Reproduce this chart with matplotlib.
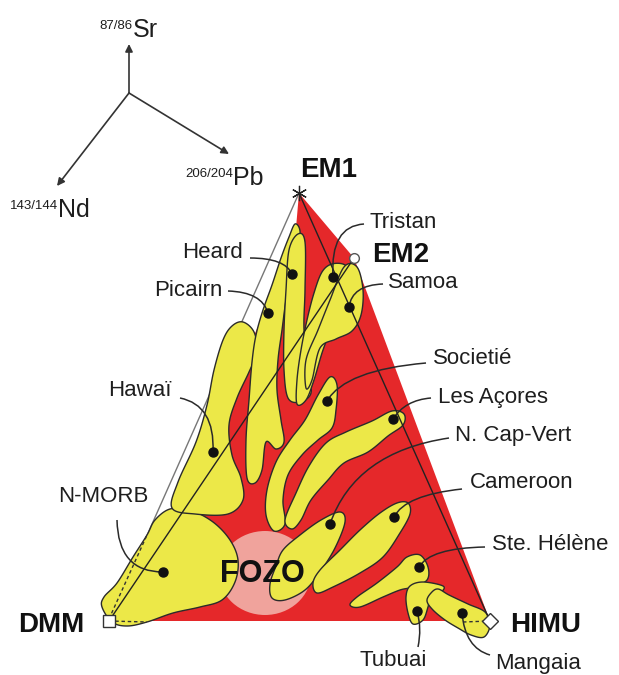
import numpy as np
import matplotlib.pyplot as plt
from matplotlib.path import Path
from matplotlib.patches import PathPatch, Polygon, Ellipse

plt.rcParams['font.family'] = ['Liberation Sans', 'DejaVu Sans']

# end-members (picture coords, y down)
em_names = ['EM1', 'EM2', 'DMM', 'HIMU']
em_xy = [(299, 193), (354, 258), (109, 621), (490, 621)]
em_label_xy = [(300, 170), (372, 255), (18, 625), (510, 625)]

# islands: dot position, label position, leader control point
islands = ['Tristan', 'Samoa', 'Societié', 'Les Açores', 'N. Cap-Vert', 'Cameroon',
           'Ste. Hélène', 'Tubuai', 'Mangaia', 'Heard', 'Picairn', 'Hawaï', 'N-MORB']
dot_xy = [(333, 277), (349, 307), (327, 401), (393, 419), (330, 524), (394, 517),
          (419, 567), (417, 611), (462, 613), (292, 274), (268, 313), (213, 452), (163, 572)]
label_xy = [(370, 222), (388, 283), (433, 359), (438, 397), (455, 435), (470, 483),
            (492, 545), (360, 661), (495, 663), (243, 252), (222, 290), (172, 391), (148, 496)]
label_ha = ['left'] * 9 + ['right'] * 4
lead_start = [(364, 224), (383, 284), (426, 363), (431, 398), (449, 438), (462, 489),
              (485, 547), (418, 647), (490, 655), (250, 258), (228, 291), (180, 398), (117, 520)]
lead_ctrl = [(330, 226), (352, 285), (345, 370), (405, 400), (355, 452), (405, 495),
             (430, 548), (422, 628), (465, 648), (285, 258), (262, 292), (215, 405), (118, 572)]

# yellow fields (outline points)
blobs = {
    'N-MORB': [(102, 607), (112, 622), (127, 626), (147, 622), (173, 613), (200, 607), (222, 600),
               (235, 582), (238, 560), (230, 540), (213, 522), (190, 510), (170, 509), (155, 520),
               (147, 535), (133, 557), (117, 583), (104, 597)],
    'Hawaii': [(243, 322), (254, 332), (257, 352), (249, 372), (237, 398), (229, 425), (232, 455),
               (241, 478), (243, 500), (228, 514), (195, 514), (172, 508), (178, 482), (196, 442),
               (207, 405), (214, 370), (223, 340), (232, 326)],
    'Picairn': [(295, 224), (300, 231), (298, 250), (291, 275), (286, 300), (282, 330), (278, 360),
                (277, 390), (281, 420), (284, 442), (276, 449), (266, 442), (262, 470), (255, 483),
                (247, 478), (246, 440), (249, 400), (252, 362), (256, 335), (263, 310), (272, 285),
                (281, 258), (289, 237)],
    'Heard': [(298, 234), (305, 242), (305, 290), (304, 330), (308, 370), (311, 393), (300, 402),
              (288, 398), (284, 370), (284, 330), (286, 290), (289, 250)],
    'Tristan': [(322, 272), (332, 264), (345, 265), (350, 276), (344, 298), (334, 322), (323, 350),
                (314, 380), (306, 400), (297, 404), (297, 380), (301, 350), (307, 320), (314, 293)],
    'Samoa': [(344, 267), (357, 267), (363, 290), (361, 315), (352, 331), (336, 339), (320, 348),
              (312, 380), (306, 388), (306, 360), (318, 330), (330, 300)],
    'Societie': [(330, 377), (337, 385), (336, 410), (332, 428), (318, 440), (302, 455), (288, 475),
                 (283, 500), (285, 524), (274, 531), (266, 515), (267, 490), (276, 462), (290, 440),
                 (305, 420), (318, 395)],
    'Acores': [(392, 411), (404, 414), (403, 425), (388, 436), (368, 452), (344, 463), (328, 480),
               (311, 500), (301, 520), (292, 529), (285, 520), (296, 493), (309, 466), (326, 443),
               (346, 432), (372, 421)],
    'CapVert': [(340, 512), (345, 522), (335, 548), (320, 572), (305, 590), (285, 600), (272, 598),
                (270, 584), (276, 566), (283, 550), (300, 535), (321, 520)],
    'Cameroon': [(397, 503), (408, 503), (410, 514), (400, 533), (383, 557), (360, 573), (333, 587),
                 (317, 593), (313, 583), (320, 570), (340, 550), (360, 530), (380, 513)],
    'Helene': [(407, 557), (420, 555), (428, 567), (427, 580), (413, 587), (400, 590), (383, 597),
               (360, 607), (350, 605), (357, 597), (377, 583), (397, 567)],
    'Tubuai': [(410, 586), (423, 582), (443, 586), (441, 592), (431, 595), (428, 607), (423, 620),
               (413, 624), (408, 613), (406, 597)],
    'Mangaia': [(431, 593), (438, 589), (449, 595), (468, 604), (485, 612), (490, 625), (484, 637),
                (471, 635), (458, 628), (445, 620), (433, 610), (427, 601)],
}

red_zone = [(299, 193), (354, 258), (490, 621), (150, 621), (205, 500), (232, 400),
            (252, 340), (270, 300), (285, 262), (296, 228)]
fozo_center = (265, 573)

RED = '#e5282a'
YELLOW = '#ece848'
INK = '#1e1e1e'


def smooth_closed(pts, n=14):
    p = np.array(pts, float)
    m = len(p)
    out = []
    for i in range(m):
        p0, p1, p2, p3 = p[i - 1], p[i], p[(i + 1) % m], p[(i + 2) % m]
        for t in np.linspace(0, 1, n, endpoint=False):
            t2, t3 = t * t, t * t * t
            out.append(0.5 * ((2 * p1) + (-p0 + p2) * t + (2 * p0 - 5 * p1 + 4 * p2 - p3) * t2
                              + (-p0 + 3 * p1 - 3 * p2 + p3) * t3))
    return np.array(out)


fig = plt.figure(figsize=(6.19, 6.75), dpi=100)
ax = fig.add_axes([0, 0, 1, 1])
ax.set_xlim(0, 619)
ax.set_ylim(675, 0)
ax.axis('off')

# isotope axes in the corner
origin = (129, 93)
axis_tips = [(129, 44), (229, 154), (57, 186)]
axis_sup = ['87/86', '206/204', '143/144']
axis_main = ['Sr', 'Pb', 'Nd']
axis_text_xy = [(133, 37), (233, 185), (58, 217)]
for tip, sup, main, (tx, ty) in zip(axis_tips, axis_sup, axis_main, axis_text_xy):
    ax.annotate('', xy=tip, xytext=origin,
                arrowprops=dict(arrowstyle='-|>', color='#333333', lw=1.2, mutation_scale=11,
                                shrinkA=0, shrinkB=0))
    ax.text(tx, ty - 8, sup, fontsize=9.5, ha='right', va='baseline', color=INK)
    ax.text(tx, ty, main, fontsize=18, ha='left', va='baseline', color=INK)

# triangle
ax.add_patch(Polygon(red_zone, closed=True, facecolor=RED, edgecolor='none', zorder=1))
ax.plot([em_xy[0][0], em_xy[2][0]], [em_xy[0][1], em_xy[2][1]], color='#777777', lw=1, zorder=1)
ax.add_patch(Ellipse(fozo_center, 92, 84, facecolor='#f0a39c', edgecolor='none', zorder=2))

for name, pts in blobs.items():
    ax.add_patch(Polygon(smooth_closed(pts), closed=True, facecolor=YELLOW,
                         edgecolor='#2b2b2b', lw=1, zorder=3))

# mixing lines
ax.plot([em_xy[0][0], em_xy[3][0]], [em_xy[0][1], em_xy[3][1]], color='#222222', lw=1, zorder=4)
ax.plot([em_xy[1][0], em_xy[2][0]], [em_xy[1][1], em_xy[2][1]], color='#222222', lw=1, zorder=4)
ax.plot([109, 147], [619, 535], color='#333333', lw=1, ls=(0, (2.5, 2)), zorder=4)
ax.plot([109, 147], [621, 622], color='#333333', lw=1, ls=(0, (2.5, 2)), zorder=4)
ax.plot([463, 490], [622, 621], color='#333333', lw=1, ls=(0, (2.5, 2)), zorder=4)

# end-member markers
ax.plot(*em_xy[0], marker=(6, 2, 0), ms=11, mew=0.9, color='#222222', zorder=5)
ax.plot(*em_xy[1], marker='o', ms=7, mfc='white', mec='#555555', mew=1, zorder=5)
ax.plot(*em_xy[2], marker='s', ms=9, mfc='white', mec='#333333', mew=1, zorder=5)
ax.plot(*em_xy[3], marker='D', ms=8, mfc='white', mec='#333333', mew=1, zorder=5)

for name, (x, y) in zip(em_names, em_label_xy):
    ax.text(x, y, name, fontsize=20, fontweight='bold', ha='left', va='center', color='#111111', zorder=6)
ax.text(fozo_center[0] - 3, fozo_center[1] + 1, 'FOZO', fontsize=22, fontweight='bold',
        ha='center', va='center', color='#111111', zorder=6)

# leaders, dots and labels
for name, d, lab, ha, s, c in zip(islands, dot_xy, label_xy, label_ha, lead_start, lead_ctrl):
    path = Path([s, c, d], [Path.MOVETO, Path.CURVE3, Path.CURVE3])
    ax.add_patch(PathPatch(path, facecolor='none', edgecolor='#2a2a2a', lw=1.1, zorder=5))
    ax.plot(*d, 'o', ms=6.5, color='#111111', zorder=6)
    ax.text(lab[0], lab[1], name, fontsize=16, ha=ha, va='center', color=INK, zorder=6)

fig.savefig('out.png', dpi=100, facecolor='white')
